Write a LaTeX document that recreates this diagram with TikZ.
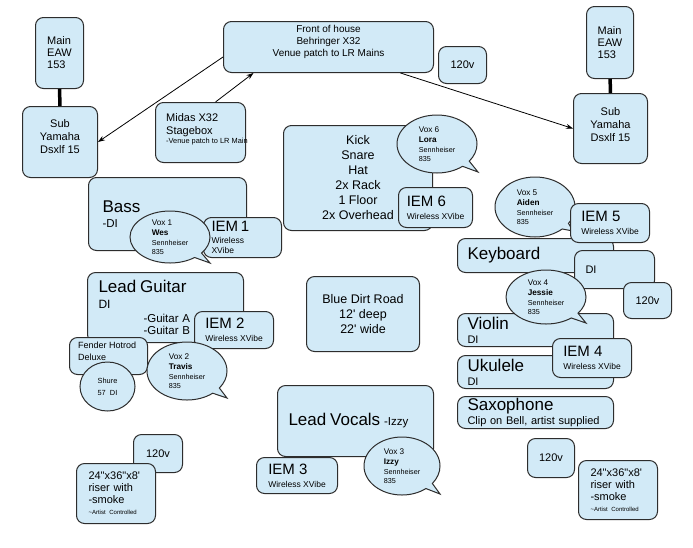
\documentclass[tikz,border=0pt]{standalone}
\usepackage{fontspec}
\setmainfont{Liberation Sans}
\usetikzlibrary{shapes.geometric, shapes.callouts, arrows.meta, positioning}

\definecolor{stageblue}{RGB}{210,234,247}
\definecolor{edgegray}{RGB}{45,45,45}

\newcommand{\fbig}{\fontsize{17}{17}\selectfont}
\newcommand{\fiem}{\fontsize{15}{15}\selectfont}
\newcommand{\fvox}{\fontsize{8.2}{9}\selectfont}
\newcommand{\vox}[2]{{\fvox Vox #1}\\[1.5pt]{\fvox\bfseries #2}\\[1pt]Sennheiser\\835}

\tikzstyle{gear} = [
    rectangle,
    rounded corners=8pt,
    draw=edgegray,
    line width=1pt,
    fill=stageblue,
    inner sep=0pt,
    anchor=north west
]
\tikzstyle{mic} = [
    ellipse callout,
    callout pointer arc=14,
    draw=edgegray,
    line width=1pt,
    fill=stageblue,
    inner sep=0pt,
    align=left,
    font=\fontsize{7.2}{9}\selectfont
]
\tikzstyle{notes} = [inner sep=0pt]
\tikzstyle{arrow} = [line width=0.8pt, ->, >={Stealth[length=7pt,width=5pt]}]
\tikzstyle{cable} = [line width=3.5pt]

\begin{document}
\begin{tikzpicture}[x=1pt, y=-1pt]

\path [use as bounding box, fill=white] (0,0) rectangle (693,547);

% speakers left
\node (mainL) [gear, minimum width=48, minimum height=71, align=left,
    font=\fontsize{11}{12}\selectfont] at (35,17) {Main\\EAW\\153};
\node (subL) [gear, minimum width=75, minimum height=71] at (22,106) {};
\node (subLtext) [notes, below=13pt of subL.north, align=center,
    font=\fontsize{11}{13}\selectfont] {Sub\\Yamaha\\Dsxlf 15};
\draw [cable] (mainL) -- (subL);

% speakers right
\node (mainR) [gear, minimum width=47, minimum height=72, align=left,
    font=\fontsize{11}{12}\selectfont] at (586,6) {Main\\EAW\\153};
\node (subR) [gear, minimum width=74, minimum height=70] at (573,93) {};
\node (subRtext) [notes, below=14pt of subR.north, align=center,
    font=\fontsize{11}{13}\selectfont] {Sub\\Yamaha\\Dsxlf 15};
\draw [cable] (mainR) -- (subR);

% front of house
\node (foh) [gear, minimum width=210, minimum height=51] at (223,21) {};
\node (fohtext) [notes, below=4pt of foh.north, align=center,
    font=\fontsize{10}{12}\selectfont]
    {Front of house\\Behringer X32\\Venue patch to LR Mains};
\node (powerA) [gear, minimum width=48, minimum height=37,
    font=\fontsize{11}{13}\selectfont] at (438,46) {120v};

\node (midas) [gear, minimum width=90, minimum height=60] at (155,102) {};
\node (midastext) [notes, anchor=north west, align=left,
    font=\fontsize{11}{13}\selectfont] at ([shift={(11pt,-11pt)}]midas.north west)
    {Midas X32\\Stagebox\\[-3.5pt]{\fontsize{7.4}{9}\selectfont -Venue patch to LR Main}};

\draw [arrow] ([yshift=-10pt]foh.west) -- (subL.east);
\draw [arrow] ([xshift=15pt]midas.north) -- ([xshift=-75pt]foh.south);
\draw [arrow] ([xshift=72pt]foh.south) -- (subR.west);

% drums
\node (drums) [gear, minimum width=149, minimum height=105, align=center,
    font=\fontsize{12.5}{15}\selectfont] at (283,125)
    {Kick\\Snare\\Hat\\2x Rack\\1 Floor\\2x Overhead};
\node (vox6) [mic, minimum width=80, minimum height=58,
    callout absolute pointer={(478,172)}] at (437,144) {\vox{6}{Lora}};
\node (iem6) [gear, minimum width=74, minimum height=40, align=left,
    font=\fontsize{8.5}{13}\selectfont] at (398,187) {{\fiem IEM 6}\\Wireless XVibe};

% bass
\node (bass) [gear, minimum width=158, minimum height=73, text width=130,
    inner xsep=14pt, align=left, font=\fontsize{11.5}{15}\selectfont] at (88,177)
    {{\fbig Bass}\\-DI};
\node (iem1) [gear, minimum width=78, minimum height=40, text width=62,
    inner xsep=8pt, align=left, font=\fontsize{8.5}{10}\selectfont] at (203,217)
    {{\fiem IEM 1}\\[2pt]Wireless\\XVibe};
\node (vox1) [mic, minimum width=80, minimum height=52,
    callout absolute pointer={(210,263)}] at (170,237) {\vox{1}{Wes}};

% lead guitar
\node (leadg) [gear, minimum width=156, minimum height=70, text width=134,
    inner xsep=11pt, align=left, font=\fontsize{11.5}{12}\selectfont] at (87,272)
    {{\fbig Lead Guitar}\\[3.5pt]{\fontsize{12}{12}\selectfont DI}\\[2.5pt]%
    \hspace*{45pt}-Guitar A\\\hspace*{45pt}-Guitar B};
\node (iem2) [gear, minimum width=79, minimum height=37, align=left,
    font=\fontsize{8.5}{13}\selectfont] at (194,311) {{\fiem IEM 2}\\Wireless XVibe};
\node (fender) [gear, minimum width=78, minimum height=37] at (69,337) {};
\node (fendertext) [notes, anchor=north west, align=left,
    font=\fontsize{9}{11.5}\selectfont] at ([shift={(9pt,-5pt)}]fender.north west)
    {Fender Hotrod\\Deluxe};
\node (shure) [ellipse, draw=edgegray, line width=1pt, fill=stageblue,
    inner sep=0pt, minimum width=55, minimum height=49, align=center,
    font=\fontsize{7.4}{12}\selectfont] at (107.5,386.5) {Shure\\57\ \ DI};
\node (vox2) [mic, minimum width=80, minimum height=58,
    callout absolute pointer={(227,398)}] at (187,371) {\vox{2}{Travis}};

% stage
\node (stage) [gear, minimum width=113, minimum height=75, align=center,
    font=\fontsize{12.5}{15}\selectfont] at (306,276)
    {Blue Dirt Road\\12\textquotesingle{} deep\\22\textquotesingle{} wide};

% lead vocals
\node (vocals) [gear, minimum width=156, minimum height=71, text width=134,
    inner xsep=11pt, align=left, font=\fontsize{11.5}{15}\selectfont] at (277,385)
    {{\fbig Lead Vocals} -Izzy};
\node (iem3) [gear, minimum width=81, minimum height=36, align=left,
    font=\fontsize{8.5}{13}\selectfont] at (256,457) {{\fiem IEM 3}\\Wireless XVibe};
\node (vox3) [mic, minimum width=76, minimum height=58,
    callout absolute pointer={(440,494)}] at (402,466) {\vox{3}{Izzy}};

% keyboard
\node (keys) [gear, minimum width=156, minimum height=34, text width=136,
    inner xsep=10pt, align=left, font=\fbig] at (457,238) {Keyboard};
\node (keysdi) [gear, minimum width=80, minimum height=38, text width=58,
    inner xsep=11pt, align=left, font=\fontsize{11}{13}\selectfont] at (574,250) {DI};
\node (powerB) [gear, minimum width=48, minimum height=36,
    font=\fontsize{11}{13}\selectfont] at (623,282) {120v};
\node (vox5) [mic, minimum width=80, minimum height=60,
    callout absolute pointer={(573,231)}] at (535,207) {\vox{5}{Aiden}};
\node (iem5) [gear, minimum width=79, minimum height=39, align=left,
    font=\fontsize{8.5}{13}\selectfont] at (570,203) {{\fiem IEM 5}\\Wireless XVibe};

% strings
\node (violin) [gear, minimum width=156, minimum height=33, text width=136,
    inner xsep=10pt, align=left, font=\fontsize{11}{14}\selectfont] at (457,313)
    {{\fbig Violin}\\DI};
\node (vox4) [mic, minimum width=80, minimum height=54,
    callout absolute pointer={(586,323)}] at (546,297) {\vox{4}{Jessie}};
\node (ukulele) [gear, minimum width=156, minimum height=33, text width=136,
    inner xsep=10pt, align=left, font=\fontsize{11}{14}\selectfont] at (457,355)
    {{\fbig Ukulele}\\DI};
\node (iem4) [gear, minimum width=79, minimum height=39, align=left,
    font=\fontsize{8.5}{13}\selectfont] at (552,338) {{\fiem IEM 4}\\Wireless XVibe};

% saxophone
\node (sax) [gear, minimum width=156, minimum height=32, text width=136,
    inner xsep=10pt, align=left, font=\fontsize{11}{14}\selectfont] at (457,396)
    {{\fbig Saxophone}\\Clip on Bell, artist supplied};

% risers
\node (powerC) [gear, minimum width=47, minimum height=39,
    font=\fontsize{11}{13}\selectfont] at (527,438) {120v};
\node (riserR) [gear, minimum width=79, minimum height=59, text width=55,
    inner xsep=12pt, align=left, font=\fontsize{11}{12}\selectfont] at (578,460)
    {24\textquotedbl x36\textquotedbl x8\textquotesingle\\riser with\\-smoke\\[-1pt]%
    {\fontsize{6}{7}\selectfont\textasciitilde Artist Controlled}};
\node (powerD) [gear, minimum width=49, minimum height=38,
    font=\fontsize{11}{13}\selectfont] at (133,434) {120v};
\node (riserL) [gear, minimum width=79, minimum height=60, text width=55,
    inner xsep=11pt, align=left, font=\fontsize{11}{12}\selectfont] at (76,463)
    {24\textquotedbl x36\textquotedbl x8\textquotesingle\\riser with\\-smoke\\[-1pt]%
    {\fontsize{6}{7}\selectfont\textasciitilde Artist Controlled}};

\end{tikzpicture}
\end{document}
